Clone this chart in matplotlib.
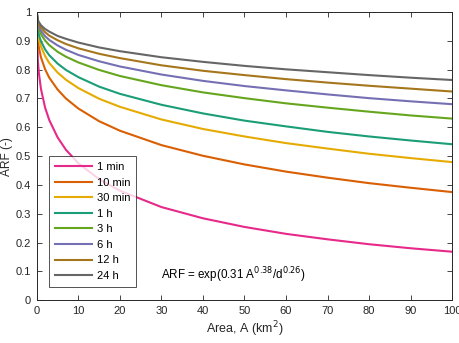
import matplotlib.pyplot as plt

plt.rcParams['font.family'] = ['Liberation Sans', 'DejaVu Sans']

# ==============================
# DATA
# ==============================
area = [0, 0.25, 0.5, 1, 2, 3, 5, 7, 10, 15, 20, 30, 40, 50, 60, 70, 80, 90, 100]

arf_1min = [1.0, 0.833, 0.788, 0.733, 0.668, 0.625, 0.565, 0.522, 0.475, 0.420,
            0.380, 0.323, 0.284, 0.254, 0.230, 0.211, 0.194, 0.180, 0.168]
arf_10min = [1.0, 0.904, 0.877, 0.843, 0.801, 0.772, 0.731, 0.700, 0.665, 0.621,
             0.588, 0.538, 0.501, 0.471, 0.446, 0.425, 0.406, 0.390, 0.375]
arf_30min = [1.0, 0.927, 0.906, 0.880, 0.847, 0.823, 0.790, 0.765, 0.736, 0.699,
             0.671, 0.627, 0.594, 0.568, 0.545, 0.526, 0.508, 0.493, 0.479]
arf_1h = [1.0, 0.939, 0.921, 0.899, 0.870, 0.850, 0.821, 0.799, 0.774, 0.741,
          0.716, 0.678, 0.648, 0.623, 0.603, 0.584, 0.568, 0.554, 0.541]
arf_3h = [1.0, 0.954, 0.940, 0.923, 0.901, 0.885, 0.862, 0.845, 0.825, 0.799,
          0.778, 0.746, 0.721, 0.701, 0.683, 0.668, 0.654, 0.641, 0.630]
arf_6h = [1.0, 0.961, 0.950, 0.935, 0.916, 0.903, 0.884, 0.869, 0.851, 0.829,
          0.811, 0.783, 0.761, 0.743, 0.728, 0.714, 0.701, 0.690, 0.680]
arf_12h = [1.0, 0.967, 0.958, 0.946, 0.930, 0.918, 0.902, 0.889, 0.874, 0.855,
           0.840, 0.815, 0.796, 0.781, 0.767, 0.755, 0.744, 0.734, 0.724]
arf_24h = [1.0, 0.973, 0.965, 0.954, 0.941, 0.932, 0.917, 0.907, 0.894, 0.877,
           0.864, 0.843, 0.827, 0.813, 0.801, 0.791, 0.781, 0.772, 0.764]

labels = ['1 min', '10 min', '30 min', '1 h', '3 h', '6 h', '12 h', '24 h']
series = [arf_1min, arf_10min, arf_30min, arf_1h, arf_3h, arf_6h, arf_12h, arf_24h]
colors = ['#e7298a', '#d95f02', '#e6ab02', '#1b9e77',
          '#66a61e', '#7570b3', '#a6761d', '#666666']

# ==============================
# PLOT
# ==============================
fig = plt.figure(figsize=(4.6, 3.43), dpi=100)
ax = fig.add_axes([0.080, 0.125, 0.903, 0.840])

for vals, lab, col in zip(series, labels, colors):
    ax.plot(area, vals, color=col, lw=1.5, label=lab)

ax.set_xlim(0, 100)
ax.set_ylim(0, 1)
ax.set_xticks(range(0, 101, 10))
ax.set_yticks([0, 0.1, 0.2, 0.3, 0.4, 0.5, 0.6, 0.7, 0.8, 0.9, 1])
ax.set_yticklabels(['0', '0.1', '0.2', '0.3', '0.4', '0.5', '0.6', '0.7', '0.8', '0.9', '1'])
ax.tick_params(direction='in', top=True, right=True, length=3.5, width=0.6,
               labelsize=8, colors='#262626', pad=4)
for s in ax.spines.values():
    s.set_linewidth(0.7)
    s.set_color('#262626')

ax.set_xlabel('Area, A (km$^2$)', fontsize=9, color='#262626', labelpad=3)
ax.set_ylabel('ARF (-)', fontsize=8.6, color='#262626')
ax.yaxis.set_label_coords(-0.057, 0.5)

ax.text(30, 0.087, r'ARF = exp(0.31 A$^{0.38}$/d$^{0.26}$)', fontsize=8.4,
        color='black', va='center', ha='left')

leg = ax.legend(loc='lower left', bbox_to_anchor=(0.029, 0.045), borderaxespad=0,
                fontsize=8, frameon=True, fancybox=False, handlelength=3.3,
                labelspacing=0.5, borderpad=0.55, handletextpad=0.45)
leg.get_frame().set_edgecolor('#262626')
leg.get_frame().set_linewidth(0.7)

fig.savefig('out.png', dpi=100)
